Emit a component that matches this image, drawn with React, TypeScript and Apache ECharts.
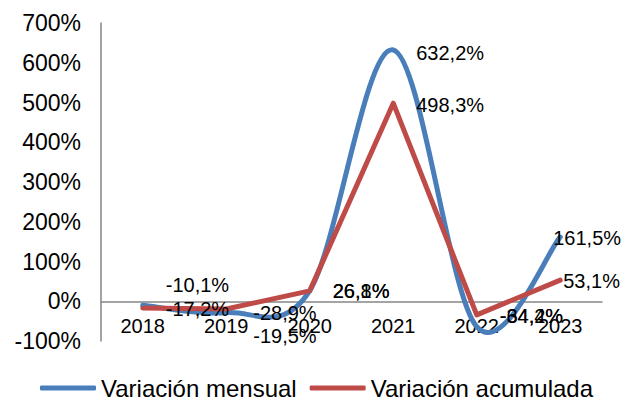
import React, { useEffect, useRef } from "react";
import * as echarts from "echarts";

const years = ["2018", "2019", "2020", "2021", "2022", "2023"];
const mensual = [-10.1, -28.9, 26.8, 632.2, -64.2, 161.5];
const acumulada = [-17.2, -19.5, 26.1, 498.3, -34.4, 53.1];
const yTicks = { min: -100, max: 700, interval: 100 };

// label nudges (px) relative to the default right-side placement
const mensualLabelOffsets = [[0, -20], [4, 0], [0, 0], [0, 3], [0, -11], [-30, 1]];
const acumuladaLabelOffsets = [[0, 1], [4, 27], [0, 0], [0, 2], [0, 1], [-20, 1]];

const BLUE = "#4A7EBB";
const RED = "#BE4B48";
const fmt = (v: number) => v.toFixed(1).replace(".", ",") + "%";
const FONT = "'Liberation Sans', Arial, sans-serif";

export default function App() {
  const ref = useRef<HTMLDivElement>(null);
  useEffect(() => {
    if (!ref.current) return;
    const chart = echarts.init(ref.current, undefined, { renderer: "svg" });
    const mk = (vals: number[], offs: number[][]) =>
      vals.map((v, i) => ({ value: v, label: { offset: offs[i] } }));
    const labelCfg = {
      show: true,
      position: "right",
      distance: 22,
      color: "#000",
      fontSize: 20,
      fontFamily: FONT,
      formatter: (p: any) => fmt(p.value),
    };
    chart.setOption({
      animation: false,
      textStyle: { fontFamily: FONT },
      grid: { left: 101, right: 24, top: 23, bottom: 59 },
      legend: {
        left: 40,
        top: 376,
        padding: 0,
        itemWidth: 56,
        itemHeight: 5,
        itemGap: 13,
        icon: "roundRect",
        itemStyle: { opacity: 1 },
        textStyle: { fontSize: 24, color: "#000", fontFamily: FONT },
        data: [
          { name: "Variación mensual", itemStyle: { color: BLUE, opacity: 1 } },
          { name: "Variación acumulada", itemStyle: { color: RED, opacity: 1 } },
        ],
      },
      xAxis: {
        type: "category",
        data: years,
        boundaryGap: true,
        axisLine: { onZero: true, lineStyle: { color: "#868686", width: 1.5 } },
        axisTick: { show: false },
        axisLabel: { color: "#000", fontSize: 20, margin: -25, fontFamily: FONT },
      },
      yAxis: {
        type: "value",
        min: yTicks.min,
        max: yTicks.max,
        interval: yTicks.interval,
        axisLine: { show: true, lineStyle: { color: "#868686", width: 1.5 } },
        axisTick: { show: false },
        splitLine: { show: false },
        axisLabel: { color: "#000", fontSize: 23, margin: 20, formatter: "{value}%", fontFamily: FONT },
      },
      series: [
        {
          name: "mensualCurve",
          type: "custom",
          silent: true,
          data: [0],
          renderItem: (_params: any, api: any) => {
            const pts = mensual.map((v, i) => api.coord([i, v]));
            const n = pts.length;
            let d = `M${pts[0][0]},${pts[0][1]}`;
            for (let i = 0; i < n - 1; i++) {
              const p0 = pts[i - 1] || pts[i];
              const p1 = pts[i];
              const p2 = pts[i + 1];
              const p3 = pts[i + 2] || pts[i + 1];
              const c1x = p1[0] + (p2[0] - p0[0]) / 6;
              const c1y = p1[1] + (p2[1] - p0[1]) / 6;
              const c2x = p2[0] - (p3[0] - p1[0]) / 6;
              const c2y = p2[1] - (p3[1] - p1[1]) / 6;
              d += ` C${c1x},${c1y} ${c2x},${c2y} ${p2[0]},${p2[1]}`;
            }
            return {
              type: "path",
              shape: { pathData: d },
              style: { fill: "none", stroke: BLUE, lineWidth: 5, lineCap: "round", lineJoin: "round" },
            };
          },
        },
        {
          name: "Variación mensual",
          type: "line",
          data: mk(mensual, mensualLabelOffsets),
          symbol: "circle",
          symbolSize: 2,
          itemStyle: { color: BLUE },
          lineStyle: { color: BLUE, width: 0, opacity: 0 },
          label: labelCfg,
        },
        {
          name: "Variación acumulada",
          type: "line",
          smooth: false,
          data: mk(acumulada, acumuladaLabelOffsets),
          symbol: "circle",
          symbolSize: 2,
          itemStyle: { color: RED },
          lineStyle: { color: RED, width: 5, cap: "round", join: "round" },
          label: labelCfg,
        },
      ],
    });
    return () => chart.dispose();
  }, []);
  return <div ref={ref} style={{ width: 626, height: 400, position: "absolute", left: 0, top: 0 }} />;
}
